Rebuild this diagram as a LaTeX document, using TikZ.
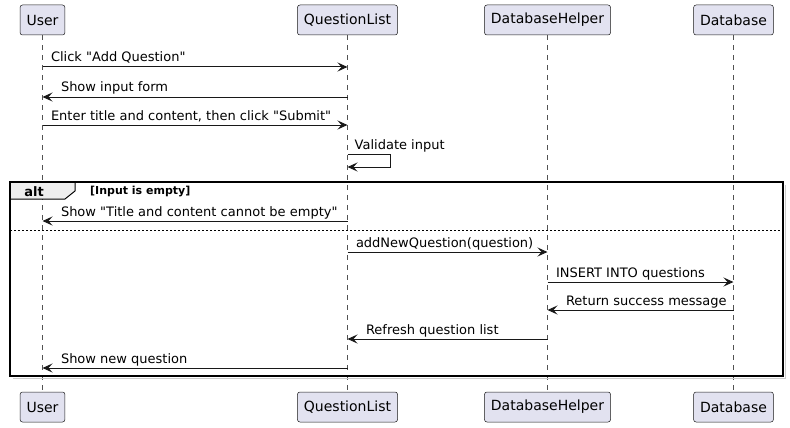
\documentclass[tikz,border=0pt]{standalone}
\usepackage{fontspec}
\newfontfamily\umlfont{DejaVu Sans}
\usetikzlibrary{arrows.meta}
\definecolor{partfill}{HTML}{E2E2F0}
\definecolor{partline}{HTML}{181818}
\definecolor{tabfill}{HTML}{EEEEEE}

\begin{document}
\begin{tikzpicture}[x=1pt,y=-1pt]
\tikzset{part/.style = {rounded corners=2.5pt, fill=partfill, draw=partline, line width=0.5pt, minimum height=30pt, inner xsep=6.5pt, font=\umlfont\fontsize{14}{16}\selectfont}}
\tikzset{lifeline/.style = {draw=partline!75, line width=0.5pt, dash pattern=on 5pt off 5pt}}
\tikzset{msg/.style = {-{Stealth[length=10pt,width=9pt,inset=4pt]}, draw=partline, line width=1pt}}
\tikzset{lbl/.style = {anchor=base west, inner sep=0pt, font=\umlfont\fontsize{13}{15}\selectfont}}
\useasboundingbox (0,0) rectangle (790,428);

    \node[part] (userTop) at (42.5,20) {User};
    \node[part] (qlTop) at (347.5,20) {QuestionList};
    \node[part] (dhTop) at (547.5,20) {DatabaseHelper};
    \node[part] (dbTop) at (733.5,20) {Database};

    \node[part] (userBot) at (42.5,407) {User};
    \node[part] (qlBot) at (347.5,407) {QuestionList};
    \node[part] (dhBot) at (547.5,407) {DatabaseHelper};
    \node[part] (dbBot) at (733.5,407) {Database};

\draw[lifeline] (userTop) -- (userBot);
\draw[lifeline] (qlTop) -- (qlBot);
\draw[lifeline] (dhTop) -- (dhBot);
\draw[lifeline] (dbTop) -- (dbBot);

% alt frame
\draw[black!20, line width=1.5pt] (785.5,185) -- (785.5,378.5) -- (13,378.5);
\draw[line width=1pt, fill=tabfill] (10,182) -- (75,182) -- (75,191) -- (65,199) -- (10,199) -- cycle;
\draw[line width=1.5pt] (10,182) rectangle (783,376);
\draw[line width=0.8pt, dash pattern=on 2pt off 2pt] (10,230) -- (783,230);
    \node[anchor=base, inner sep=0pt, font=\umlfont\bfseries\fontsize{13}{15}\selectfont] (altLbl) at (34,196) {alt};
    \node[anchor=base west, inner sep=0pt, font=\umlfont\bfseries\fontsize{11}{13}\selectfont] (altCond) at (90,194) {[Input is empty]};

\coordinate (u1) at (42.5,67);   \coordinate (q1) at (347.5,67);
\coordinate (u2) at (42.5,97);   \coordinate (q2) at (347.5,97);
\coordinate (u3) at (42.5,125);  \coordinate (q3) at (347.5,125);
\coordinate (q4a) at (347.5,154); \coordinate (q4b) at (347.5,167);
\coordinate (u5) at (42.5,221);  \coordinate (q5) at (347.5,221);
\coordinate (q6) at (347.5,252); \coordinate (h6) at (547.5,252);
\coordinate (h7) at (547.5,282); \coordinate (d7) at (733.5,282);
\coordinate (h8) at (547.5,310); \coordinate (d8) at (733.5,310);
\coordinate (q9) at (347.5,339); \coordinate (h9) at (547.5,339);
\coordinate (u10) at (42.5,368); \coordinate (q10) at (347.5,368);

    \draw[msg] (u1) -- (q1) node[lbl, pos=0, xshift=8pt, yshift=5pt] (t1) {Click "Add Question"};
    \draw[msg] (q2) -- (u2) node[lbl, pos=1, xshift=18pt, yshift=5pt] (t2) {Show input form};
    \draw[msg] (u3) -- (q3) node[lbl, pos=0, xshift=8pt, yshift=5pt] (t3) {Enter title and content, then click "Submit"};
    \draw[msg] (q4a) -- ++(43,0) |- (q4b);
    \node[lbl] (t4) at (354.5,149) {Validate input};
    \draw[msg] (q5) -- (u5) node[lbl, pos=1, xshift=18pt, yshift=5pt] (t5) {Show "Title and content cannot be empty"};
    \draw[msg] (q6) -- (h6) node[lbl, pos=0, xshift=8pt, yshift=5pt] (t6) {addNewQuestion(question)};
    \draw[msg] (h7) -- (d7) node[lbl, pos=0, xshift=8pt, yshift=5pt] (t7) {INSERT INTO questions};
    \draw[msg] (d8) -- (h8) node[lbl, pos=1, xshift=18pt, yshift=5pt] (t8) {Return success message};
    \draw[msg] (h9) -- (q9) node[lbl, pos=1, xshift=18pt, yshift=5pt] (t9) {Refresh question list};
    \draw[msg] (q10) -- (u10) node[lbl, pos=1, xshift=18pt, yshift=5pt] (t10) {Show new question};
\end{tikzpicture}
\end{document}
